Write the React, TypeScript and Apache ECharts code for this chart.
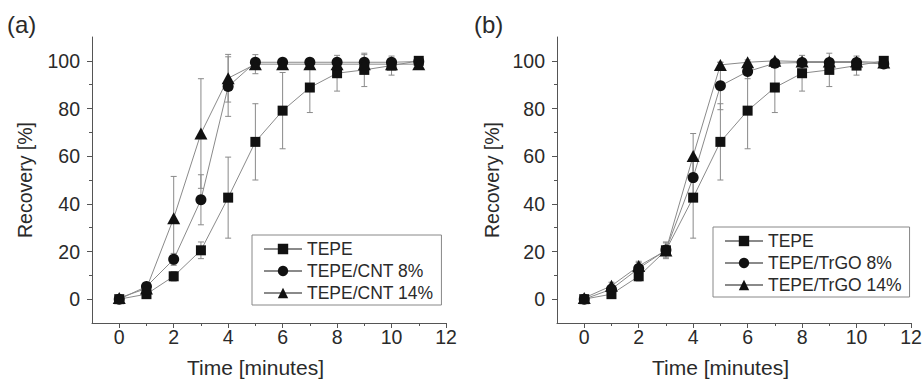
import React, { useEffect, useRef } from "react";
import * as echarts from "echarts";

const times = [0, 1, 2, 3, 4, 5, 6, 7, 8, 9, 10, 11];

const tepe = [0, 2.1, 9.6, 20.5, 42.6, 66, 79.1, 88.8, 94.8, 96.2, 98, 100];
const tepeErr = [0.5, 1, 2, 3.5, 17, 16, 16, 10.5, 7.5, 7, 4, 1];

const cnt8 = [0, 5.3, 16.7, 41.7, 89.2, 99.4, 99.4, 99.4, 99.4, 99.4, 99.4, 99.7];
const cnt8Err = [0.5, 1, 2.5, 10.5, 12.5, 1, 0.5, 0.5, 0.5, 0.5, 0.5, 0.5];

const cnt14 = [0.5, 4.5, 34, 69.5, 92.7, 98.6, 98.6, 98.6, 98.6, 98.6, 98.6, 98.6];
const cnt14Err = [0.5, 1, 17.5, 23, 10, 4, 0.5, 0.5, 0.5, 4, 0.5, 0.5];

const trgo8 = [0, 4.2, 12.9, 20.6, 51, 89.5, 95.5, 99, 99.3, 99.3, 99.3, 98.7];
const trgo8Err = [0.5, 1, 2.5, 3, 8, 10, 3, 1, 1, 1, 1, 0.5];

const trgo14 = [0.5, 5.6, 13.9, 20.4, 60.1, 98.3, 99.4, 100, 99.7, 99.7, 99.7, 99.3];
const trgo14Err = [0.5, 1.5, 2, 2, 9.4, 1, 1, 0.5, 0.5, 1, 0.5, 0.5];

const yMajor = [0, 20, 40, 60, 80, 100];
const yMinor = [10, 30, 50, 70, 90];
const xMajor = [0, 2, 4, 6, 8, 10, 12];
const xMinor = [1, 3, 5, 7, 9, 11];

const namesA = ["TEPE", "TEPE/CNT 8%", "TEPE/CNT 14%"];
const namesB = ["TEPE", "TEPE/TrGO 8%", "TEPE/TrGO 14%"];

const FONT = "'Liberation Sans', Arial, sans-serif";
const AXIS = "#555";
const LINE = "#8a8a8a";
const MARK = "#111";
const TXT = "#2a2a2a";

function App() {
  const ref = useRef<HTMLDivElement>(null);
  useEffect(() => {
    if (!ref.current) return;
    const chart = echarts.init(ref.current, null, { renderer: "svg" });

    const grids = [
      { left: 92, top: 37, width: 354, height: 286, outerBoundsMode: "none", containLabel: false },
      { left: 557, top: 37, width: 354, height: 286, outerBoundsMode: "none", containLabel: false },
    ];

    const xAxes: any[] = [];
    const yAxes: any[] = [];
    [0, 1].forEach((g) => {
      xAxes.push({
        type: "value",
        gridIndex: g,
        min: -1,
        max: 12,
        name: "Time [minutes]",
        nameLocation: "middle",
        nameGap: 34,
        nameTextStyle: { fontSize: 21, color: TXT, fontFamily: FONT, padding: [0, 27, 0, 0] },
        axisLine: { show: true, onZero: false, lineStyle: { color: AXIS, width: 1 } },
        axisTick: { show: true, length: 5, customValues: xMajor, lineStyle: { color: AXIS } },
        axisLabel: { customValues: xMajor, fontSize: 19.5, color: TXT, fontFamily: FONT, margin: 4 },
        splitLine: { show: false },
      });
      xAxes.push({
        type: "value",
        gridIndex: g,
        min: -1,
        max: 12,
        position: "bottom",
        axisLine: { show: false, onZero: false },
        axisTick: { show: true, length: 3, customValues: xMinor, lineStyle: { color: AXIS } },
        axisLabel: { show: false },
        splitLine: { show: false },
      });
      yAxes.push({
        type: "value",
        gridIndex: g,
        min: -10,
        max: 110,
        name: "Recovery [%]",
        nameLocation: "middle",
        nameGap: g === 0 ? 57 : 55,
        nameTextStyle: { fontSize: 19.5, color: TXT, fontFamily: FONT },
        axisLine: { show: true, onZero: false, lineStyle: { color: AXIS, width: 1 } },
        axisTick: { show: true, length: 5, customValues: yMajor, lineStyle: { color: AXIS } },
        axisLabel: { customValues: yMajor, fontSize: 19.5, color: TXT, fontFamily: FONT, margin: 12 },
        splitLine: { show: false },
      });
      yAxes.push({
        type: "value",
        gridIndex: g,
        min: -10,
        max: 110,
        position: "left",
        axisLine: { show: false, onZero: false },
        axisTick: { show: true, length: 3, customValues: yMinor, lineStyle: { color: AXIS } },
        axisLabel: { show: false },
        splitLine: { show: false },
      });
    });

    const errSeries = (name: string, vals: number[], errs: number[], g: number) => ({
      type: "custom",
      name,
      xAxisIndex: g * 2,
      yAxisIndex: g * 2,
      z: 1,
      silent: true,
      encode: { x: 0, y: [1, 2] },
      data: times.map((t, i) => [t, vals[i] - errs[i], vals[i] + errs[i]]),
      renderItem: (params: any, api: any) => {
        const x = api.value(0);
        const lo = api.coord([x, api.value(1)]);
        const hi = api.coord([x, api.value(2)]);
        const w = 3;
        const st = { stroke: LINE, lineWidth: 1 };
        return {
          type: "group",
          children: [
            { type: "line", shape: { x1: lo[0], y1: lo[1], x2: hi[0], y2: hi[1] }, style: st },
            { type: "line", shape: { x1: lo[0] - w, y1: lo[1], x2: lo[0] + w, y2: lo[1] }, style: st },
            { type: "line", shape: { x1: hi[0] - w, y1: hi[1], x2: hi[0] + w, y2: hi[1] }, style: st },
          ],
        };
      },
    });

    const lineSeries = (name: string, vals: number[], g: number, symbol: string, size: any) => ({
      type: "line",
      name,
      xAxisIndex: g * 2,
      yAxisIndex: g * 2,
      z: 3,
      symbol,
      symbolSize: size,
      showSymbol: true,
      lineStyle: { color: LINE, width: 1 },
      itemStyle: { color: MARK },
      data: times.map((t, i) => [t, vals[i]]),
    });

    const legendBase = {
      orient: "vertical",
      itemWidth: 38,
      itemHeight: 13,
      itemGap: 4,
      padding: [5, 8, 3, 11],
      borderColor: "#888",
      borderWidth: 1,
      textStyle: { fontSize: 17.5, color: TXT, fontFamily: FONT, lineHeight: 17 },
      selectedMode: false,
    };

    chart.setOption({
      animation: false,
      backgroundColor: "#fff",
      grid: grids,
      xAxis: xAxes,
      yAxis: yAxes,
      legend: [
        { ...legendBase, left: 252, top: 235, data: namesA },
        { ...legendBase, left: 713, top: 227, data: namesB },
      ],
      graphic: [
        { type: "text", left: 7, top: 12, style: { text: "(a)", fontSize: 24, fill: TXT, fontFamily: FONT } },
        { type: "text", left: 474, top: 12, style: { text: "(b)", fontSize: 24, fill: TXT, fontFamily: FONT } },
      ],
      series: [
        errSeries("errA0", tepe, tepeErr, 0),
        errSeries("errA1", cnt8, cnt8Err, 0),
        errSeries("errA2", cnt14, cnt14Err, 0),
        errSeries("errB0", tepe, tepeErr, 1),
        errSeries("errB1", trgo8, trgo8Err, 1),
        errSeries("errB2", trgo14, trgo14Err, 1),
        lineSeries(namesA[0], tepe, 0, "rect", 10),
        lineSeries(namesA[1], cnt8, 0, "circle", 11),
        lineSeries(namesA[2], cnt14, 0, "triangle", [13, 12]),
        lineSeries(namesB[0], tepe, 1, "rect", 10),
        lineSeries(namesB[1], trgo8, 1, "circle", 11),
        lineSeries(namesB[2], trgo14, 1, "triangle", [13, 12]),
      ],
    });
    return () => chart.dispose();
  }, []);
  return <div ref={ref} style={{ width: 922, height: 381, position: "absolute", left: 0, top: 0 }} />;
}

export default App;
